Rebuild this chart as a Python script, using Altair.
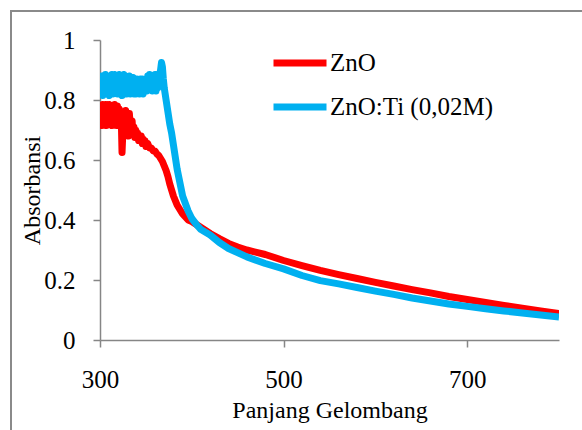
import altair as alt
import pandas as pd

# ZnO (red)
zno_w = [300, 301, 302, 303, 304, 305, 306, 307, 308, 309, 310, 311, 312, 313, 314, 315, 316, 317, 318, 319,
         320, 321, 322, 323, 324, 325, 326, 327, 328, 329, 330, 331, 332, 333, 334, 335, 336, 337, 338, 339,
         340, 341, 342, 343, 344, 345, 346, 347, 348, 349, 350, 352, 354, 356, 358, 360, 362, 364, 366, 368,
         370, 372, 374, 376, 378, 380, 382, 384, 386, 388, 390, 393, 396, 400, 405, 410, 415, 420, 430, 440,
         450, 460, 480, 500, 520, 540, 560, 580, 600, 620, 640, 660, 680, 700, 720, 740, 760, 780, 800]
zno_a = [0.73, 0.77, 0.715, 0.785, 0.72, 0.76, 0.785, 0.715, 0.77, 0.735, 0.785, 0.72, 0.78, 0.715, 0.77, 0.74, 0.785, 0.75, 0.715, 0.78,
         0.73, 0.77, 0.715, 0.76, 0.625, 0.70, 0.76, 0.725, 0.765, 0.715, 0.745, 0.68, 0.755, 0.715, 0.695, 0.73, 0.685, 0.71, 0.675, 0.70,
         0.675, 0.69, 0.665, 0.68, 0.665, 0.68, 0.655, 0.67, 0.655, 0.665, 0.645, 0.655, 0.64, 0.64, 0.63, 0.63, 0.62, 0.615, 0.605, 0.595,
         0.58, 0.565, 0.545, 0.52, 0.50, 0.48, 0.465, 0.45, 0.44, 0.43, 0.42, 0.41, 0.40, 0.395, 0.385, 0.375, 0.365, 0.355, 0.338, 0.322,
         0.31, 0.30, 0.285, 0.265, 0.248, 0.232, 0.218, 0.205, 0.192, 0.18, 0.168, 0.157, 0.145, 0.135, 0.125, 0.115, 0.106, 0.097, 0.088]

# ZnO:Ti (0,02M) (blue)
ti_w = [300, 301, 302, 303, 304, 305, 306, 307, 308, 309, 310, 311, 312, 313, 314, 315, 316, 317, 318, 319,
        320, 321, 322, 323, 324, 325, 326, 327, 328, 329, 330, 331, 332, 333, 334, 335, 336, 337, 338, 339,
        340, 341, 342, 343, 344, 345, 346, 347, 348, 349, 350, 351, 352, 353, 354, 355, 356, 357, 358, 359,
        360, 361, 362, 363, 364, 365, 366, 367, 368, 369, 370, 372, 374, 376, 378, 380, 382, 384, 386, 388,
        390, 393, 396, 400, 405, 410, 420, 430, 440, 460, 480, 500, 520, 540, 560, 580, 600, 620, 640, 660,
        680, 700, 720, 740, 760, 780, 800]
ti_a = [0.875, 0.82, 0.88, 0.815, 0.87, 0.83, 0.885, 0.82, 0.875, 0.84, 0.815, 0.88, 0.83, 0.885, 0.82, 0.87, 0.885, 0.83, 0.88, 0.82,
        0.87, 0.885, 0.825, 0.88, 0.815, 0.87, 0.885, 0.83, 0.875, 0.82, 0.87, 0.83, 0.88, 0.82, 0.87, 0.83, 0.875, 0.82, 0.86, 0.82,
        0.87, 0.83, 0.865, 0.82, 0.87, 0.83, 0.87, 0.82, 0.86, 0.83, 0.87, 0.83, 0.88, 0.84, 0.885, 0.84, 0.88, 0.83, 0.88, 0.84,
        0.885, 0.83, 0.88, 0.84, 0.87, 0.885, 0.90, 0.925, 0.91, 0.87, 0.84, 0.80, 0.76, 0.72, 0.69, 0.65, 0.61, 0.57, 0.54, 0.51,
        0.48, 0.455, 0.43, 0.405, 0.385, 0.368, 0.35, 0.325, 0.305, 0.277, 0.255, 0.237, 0.215, 0.198, 0.187, 0.175, 0.163, 0.152, 0.14, 0.13,
        0.12, 0.112, 0.104, 0.097, 0.09, 0.083, 0.077]

series_names = ["ZnO", "ZnO:Ti (0,02M)"]
series_colors = ["#FF0000", "#00B0F0"]
x_ticks = [300, 500, 700]
y_ticks = [0, 0.2, 0.4, 0.6, 0.8, 1]

rows = []
for i, (w, a) in enumerate(zip(zno_w, zno_a)):
    rows.append({"w": w, "a": a, "s": series_names[0], "o": i})
for i, (w, a) in enumerate(zip(ti_w, ti_a)):
    rows.append({"w": w, "a": a, "s": series_names[1], "o": i})
df = pd.DataFrame(rows)

FONT = "Liberation Serif"

lines = alt.Chart(df).mark_line(strokeWidth=7, strokeJoin="round", strokeCap="butt", clip=True).encode(
    x=alt.X("w:Q", scale=alt.Scale(domain=[300, 800], nice=False, zero=False),
            axis=alt.Axis(values=x_ticks, title="Panjang Gelombang", titleY=70, titleBaseline="middle",
                          labelPadding=20, tickSize=7, labelFlush=False)),
    y=alt.Y("a:Q", scale=alt.Scale(domain=[0, 1], nice=False),
            axis=alt.Axis(values=y_ticks, format=".1~f", title="Absorbansi", titleAngle=270,
                          titleX=-68, titleY=150, titleAlign="center", titleBaseline="middle",
                          labelPadding=18, tickSize=7, labelFlush=False)),
    color=alt.Color("s:N", scale=alt.Scale(domain=series_names, range=series_colors),
                    legend=alt.Legend(title=None, orient="none", legendX=170, legendY=-7,
                                      symbolType="stroke", symbolSize=2809, symbolStrokeWidth=7,
                                      labelFontSize=25, labelFont=FONT, labelColor="black",
                                      labelLimit=400, rowPadding=-19, labelOffset=0)),
    order="o:Q",
)

border = alt.Chart(pd.DataFrame({"k": [0]})).mark_rect(filled=False, stroke="#8A8A8A", strokeWidth=2, clip=False).encode(
    x=alt.value(-89), x2=alt.value(700), y=alt.value(-29), y2=alt.value(600)
)

chart = alt.layer(border, lines).properties(
    width=459, height=300,
    background="white",
    autosize=alt.AutoSizeParams(type="none"),
    padding={"left": 100, "top": 40, "right": 23, "bottom": 90},
).configure_view(stroke=None).configure_axis(
    grid=False, domainColor="#868686", tickColor="#868686", domainWidth=1.5, tickWidth=1.5,
    labelFont=FONT, labelFontSize=25, labelColor="black",
    titleFont=FONT, titleFontSize=24, titleFontWeight="normal", titleColor="black",
)

chart.save("out.html", embed_options={"renderer": "svg", "actions": False})
